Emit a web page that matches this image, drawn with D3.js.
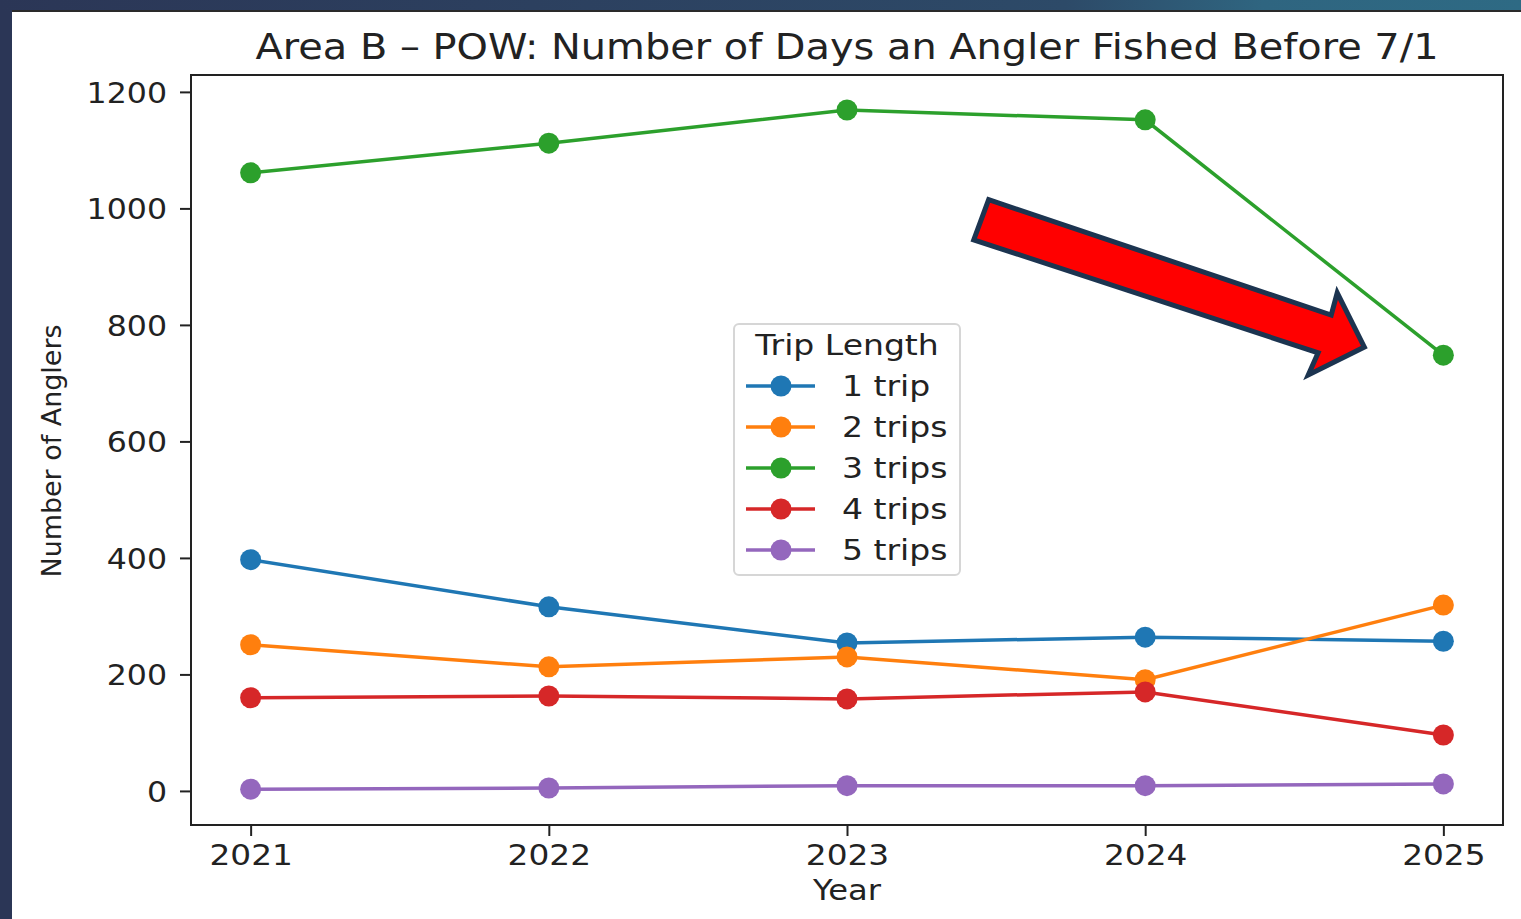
<!DOCTYPE html>
<html>
<head>
<meta charset="utf-8">
<script src="https://cdn.jsdelivr.net/npm/d3@7"></script>
<style>
  html, body { margin: 0; padding: 0; background: #2b3656; }
  svg { display: block; font-family: "DejaVu Sans", sans-serif; }
</style>
</head>
<body>
<div class="chart"></div>
<script>
// Data
let years = [2021, 2022, 2023, 2024, 2025];
let seriesNames = ["1 trip", "2 trips", "3 trips", "4 trips", "5 trips"];
let oneTrip = [397, 316, 254, 264, 257];
let twoTrips = [251, 213, 230, 191, 319];
let threeTrips = [1061, 1112, 1169, 1152, 748];
let fourTrips = [160, 163, 158, 170, 96];
let fiveTrips = [3, 5, 9, 9, 12];
let yTicks = [0, 200, 400, 600, 800, 1000, 1200];
let colors = ["#1f77b4", "#ff7f0e", "#2ca02c", "#d62728", "#9467bd"];
// arrow annotation in data units (year, anglers)
let arrowPts = [
  [2023.475, 1015], [2024.624, 817], [2024.644, 855], [2024.735, 762],
  [2024.547, 714], [2024.58, 752], [2023.425, 946]
];

let allSeries = [oneTrip, twoTrips, threeTrips, fourTrips, fiveTrips];

let width = 1521;
let height = 919;
let plot = { left: 191, right: 1503, top: 75, bottom: 825 };

let svg = d3
  .select(".chart")
  .append("svg")
  .attr("width", width)
  .attr("height", height);

// widen text a bit, the source picture is stretched sideways
function stretch(sel, factor) {
  sel.each(function () {
    let w = this.getComputedTextLength();
    d3.select(this)
      .attr("textLength", w * factor)
      .attr("lengthAdjust", "spacingAndGlyphs");
  });
}

// Slide background
let grad = svg.append("defs").append("linearGradient").attr("id", "band");
grad.append("stop").attr("offset", "0%").attr("stop-color", "#2b3656");
grad.append("stop").attr("offset", "70%").attr("stop-color", "#2d4a68");
grad.append("stop").attr("offset", "83%").attr("stop-color", "#2f6580");
grad.append("stop").attr("offset", "100%").attr("stop-color", "#2e6a84");
svg.append("rect").attr("width", width).attr("height", 11).attr("fill", "url(#band)");
svg.append("rect").attr("x", 12).attr("y", 10).attr("width", width - 12).attr("height", 2).attr("fill", "#2a2a2a");
svg.append("rect").attr("x", 12).attr("y", 12).attr("width", width - 12).attr("height", height - 12).attr("fill", "#ffffff");

// Scales
let x = d3.scaleLinear().domain([2020.8, 2025.2]).range([plot.left, plot.right]);
let y = d3.scaleLinear().domain([-58.5, 1229]).range([plot.bottom, plot.top]);

// Axes
let xAxis = svg
  .append("g")
  .attr("transform", `translate(0,${plot.bottom})`)
  .call(d3.axisBottom(x).tickValues(years).tickFormat(d3.format("d")).tickSize(11).tickPadding(6));
let yAxis = svg
  .append("g")
  .attr("transform", `translate(${plot.left},0)`)
  .call(d3.axisLeft(y).tickValues(yTicks).tickFormat(d3.format("d")).tickSize(11).tickPadding(13));

[xAxis, yAxis].forEach(function (ax) {
  ax.select(".domain").remove();
  ax.selectAll("line").attr("stroke", "#222").attr("stroke-width", 2);
  ax.selectAll("text")
    .attr("fill", "#222")
    .style("font-size", "29px")
    .style("font-family", "DejaVu Sans, sans-serif");
});
yAxis.selectAll("text").attr("dy", "0.36em");
xAxis.selectAll("text").attr("dy", "0.8em");
stretch(yAxis.selectAll("text"), 1.09);
stretch(xAxis.selectAll("text"), 1.13);

// Frame
svg
  .append("rect")
  .attr("x", plot.left)
  .attr("y", plot.top)
  .attr("width", plot.right - plot.left)
  .attr("height", plot.bottom - plot.top)
  .attr("fill", "none")
  .attr("stroke", "#222")
  .attr("stroke-width", 2);

// Lines and markers
let line = d3
  .line()
  .x(function (d, i) { return x(years[i]); })
  .y(function (d) { return y(d); });

allSeries.forEach(function (vals, k) {
  let g = svg.append("g");
  g.append("path")
    .attr("d", line(vals))
    .attr("fill", "none")
    .attr("stroke", colors[k])
    .attr("stroke-width", 3.5);
  g.selectAll("circle")
    .data(vals)
    .enter()
    .append("circle")
    .attr("cx", function (d, i) { return x(years[i]); })
    .attr("cy", function (d) { return y(d); })
    .attr("r", 10.5)
    .attr("fill", colors[k]);
});

// Title and axis labels
svg
  .append("text")
  .attr("x", (plot.left + plot.right) / 2)
  .attr("y", 59)
  .attr("text-anchor", "middle")
  .attr("textLength", 1183)
  .attr("lengthAdjust", "spacingAndGlyphs")
  .style("font-size", "35px")
  .attr("fill", "#222")
  .text("Area B \u2013 POW: Number of Days an Angler Fished Before 7/1");

svg
  .append("text")
  .attr("x", (plot.left + plot.right) / 2)
  .attr("y", 900)
  .attr("text-anchor", "middle")
  .style("font-size", "28px")
  .attr("fill", "#222")
  .text("Year")
  .call(stretch, 1.15);

svg
  .append("text")
  .attr("transform", "translate(61,451) rotate(-90)")
  .attr("text-anchor", "middle")
  .attr("textLength", 253)
  .attr("lengthAdjust", "spacingAndGlyphs")
  .style("font-size", "27px")
  .attr("fill", "#222")
  .text("Number of Anglers");

// Legend
let legend = svg.append("g").attr("transform", "translate(734,324)");
legend
  .append("rect")
  .attr("width", 226)
  .attr("height", 251)
  .attr("rx", 5)
  .attr("fill", "#fff")
  .attr("fill-opacity", 0.85)
  .attr("stroke", "#d6d6d6")
  .attr("stroke-width", 2);
legend
  .append("text")
  .attr("x", 113)
  .attr("y", 31)
  .attr("text-anchor", "middle")
  .style("font-size", "28px")
  .attr("fill", "#222")
  .text("Trip Length")
  .call(stretch, 1.18);

let items = legend
  .selectAll(".item")
  .data(seriesNames)
  .enter()
  .append("g")
  .attr("class", "item")
  .attr("transform", function (d, i) { return `translate(0,${62 + i * 41})`; });
items
  .append("line")
  .attr("x1", 12)
  .attr("x2", 81)
  .attr("stroke", function (d, i) { return colors[i]; })
  .attr("stroke-width", 3.5);
items
  .append("circle")
  .attr("cx", 47)
  .attr("r", 10.5)
  .attr("fill", function (d, i) { return colors[i]; });
items
  .append("text")
  .attr("x", 108)
  .attr("dy", "0.36em")
  .style("font-size", "28px")
  .attr("fill", "#222")
  .text(function (d) { return d; })
  .call(stretch, 1.18);

// Red arrow annotation
svg
  .append("polygon")
  .attr("points", arrowPts.map(function (p) { return [x(p[0]), y(p[1])].join(","); }).join(" "))
  .attr("fill", "#ff0000")
  .attr("stroke", "#1c3450")
  .attr("stroke-width", 5)
  .attr("stroke-linejoin", "miter");
</script>
</body>
</html>
